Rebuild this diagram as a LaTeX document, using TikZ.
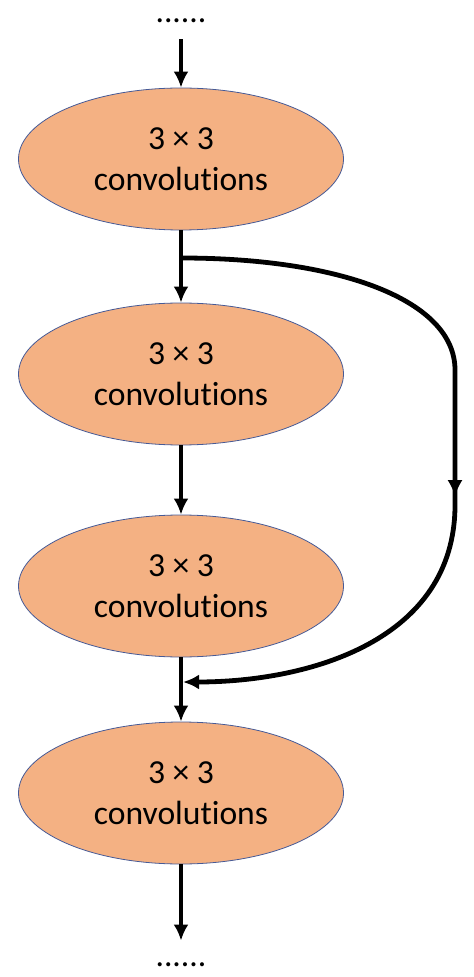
\documentclass[tikz,border=0pt]{standalone}
\usepackage{fontspec}
\setmainfont{Carlito}[RawFeature={-liga}]
\usetikzlibrary{shapes.geometric,decorations.markings,arrows.meta}
\definecolor{convfill}{RGB}{244,177,131}
\definecolor{convline}{RGB}{70,90,150}

\begin{document}
\begin{tikzpicture}[>=Latex,x=0.5pt,y=-0.5pt,
    conv/.style={ellipse,fill=convfill,draw=convline,line width=0.4pt,
      minimum width=162.5pt,minimum height=71pt,inner sep=0pt,
      align=center,font=\fontsize{16.8}{20.5}\selectfont},
    dots/.style={inner sep=8pt,font=\fontsize{16.8}{20.5}\selectfont},
    flow/.style={line width=2.4pt,-{Latex[length=8pt,width=7.5pt]}}]
  % Configurable parameters
  \def\mx{181}
  \def\rx{455}
  %
  \useasboundingbox (0,0) rectangle (474,977);
  %
  % Blocks
  \node[dots] (topdots) at (\mx,21) {......};
  \node[conv] (conv1) at (\mx,159) {3 × 3\\convolutions};
  \node[conv] (conv2) at (\mx,374) {3 × 3\\convolutions};
  \node[conv] (conv3) at (\mx,586) {3 × 3\\convolutions};
  \node[conv] (conv4) at (\mx,793) {3 × 3\\convolutions};
  \node[dots,inner sep=11pt] (botdots) at (\mx,965) {......};
  %
  % Split and merge points
  \coordinate (split) at (\mx,258);
  \coordinate (merge) at (\mx+2,682);
  %
  % Main path
  \draw[flow] (topdots) -- (conv1);
  \draw[flow] (conv1) -- (conv2);
  \draw[flow] (conv2) -- (conv3);
  \draw[flow] (conv3) -- (conv4);
  \draw[flow] (conv4) -- (botdots);
  %
  % Skip connection
  \draw[flow, decoration={ markings,
    mark=at position 0.545 with {\arrow[line width=1pt]{Latex[length=8pt,width=7.5pt]}}},
    postaction={decorate}]
    (split) .. controls (340,258) and (\rx,300) .. (\rx,370)
    -- (\rx,505) .. controls (\rx,640) and (310,682) .. (merge);
  %
\end{tikzpicture}
\end{document}
